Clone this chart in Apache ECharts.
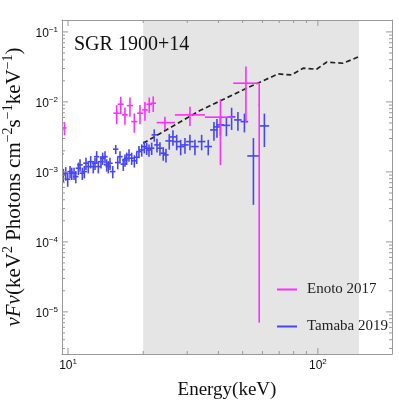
<!DOCTYPE html>
<html><head><meta charset="utf-8">
<script src="https://cdn.jsdelivr.net/npm/echarts@6/dist/echarts.min.js"></script>
<style>html,body{margin:0;padding:0;background:#fff}#c{width:399px;height:407px}</style>
</head><body><div id="c"></div>
<script>
// ---- Enoto 2017 (magenta): energy, energy bin low/high, flux, flux error
const enotoE   = [9.2, 9.68, 15.66, 16.25, 16.90, 17.70, 18.42, 19.41, 20.32, 21.14, 21.93, 24.43, 30.76, 40.74, 51.52, 58.24];
const enotoElo = [8.85, 9.5, 15.2, 15.8, 16.45, 17.2, 17.9, 18.9, 19.8, 20.6, 21.4, 22.64, 26.79, 35.32, 45.84, 57.9];
const enotoEhi = [9.6, 9.86, 16.1, 16.7, 17.35, 18.2, 18.95, 19.95, 20.85, 21.7, 22.5, 26.79, 35.32, 45.71, 58.24, 58.6];
const enotoF   = [1.81e-3, 4.25e-3, 6.90e-3, 9.27e-3, 6.52e-3, 8.86e-3, 5.23e-3, 6.90e-3, 7.69e-3, 9.27e-3, 9.58e-3, 5.06e-3, 6.52e-3, 6.05e-3, 1.85e-2, 9.05e-3];
const enotoFerr= [0.4e-3, 0.93e-3, 2.1e-3, 2.6e-3, 1.8e-3, 2.7e-3, 1.6e-3, 2.1e-3, 2.3e-3, 2.3e-3, 2.4e-3, 1.1e-3, 2.0e-3, 4.8e-3, 1.35e-2, 9.043e-3];

// ---- Tamaba 2019 (blue): energy, flux, relative errors
const tamabaE = [9.58, 9.79, 9.97, 10.19, 10.35, 10.57, 10.74, 11.0, 11.17, 11.41,
  11.62, 11.80, 12.05, 12.32, 12.62, 12.82, 13.02, 13.22, 13.55, 13.76,
  14.06, 14.28, 14.50, 14.72, 15.10, 15.52, 15.81, 16.14, 16.64, 16.90,
  17.17, 17.54, 17.98, 18.42, 18.83, 19.23, 19.72, 20.20, 20.65, 21.09,
  21.62, 22.14, 22.70, 23.33, 24.05, 24.66, 25.42, 26.30, 27.22, 28.24,
  29.38, 30.76, 32.21, 34.26, 36.41, 38.37, 39.45, 40.74, 43.05, 45.16,
  47.86, 50.82, 55.21, 61.09];
const tamabaF = [9.06e-4, 9.58e-4, 7.86e-4, 1.01e-3, 9.58e-4, 9.58e-4, 8.57e-4, 1.13e-3, 1.26e-3, 9.58e-4,
  1.01e-3, 1.33e-3, 1.19e-3, 1.40e-3, 1.19e-3, 1.33e-3, 1.65e-3, 1.19e-3, 1.40e-3, 1.57e-3,
  1.65e-3, 1.26e-3, 1.19e-3, 1.33e-3, 1.01e-3, 2.11e-3, 1.36e-3, 1.65e-3, 1.29e-3, 1.48e-3,
  1.57e-3, 1.75e-3, 1.57e-3, 1.44e-3, 1.62e-3, 1.95e-3, 2.06e-3, 2.30e-3, 2.18e-3, 2.06e-3,
  2.18e-3, 3.38e-3, 2.43e-3, 2.18e-3, 1.85e-3, 1.75e-3, 2.77e-3, 3.16e-3, 2.71e-3, 2.30e-3,
  2.43e-3, 2.71e-3, 2.30e-3, 2.71e-3, 2.30e-3, 3.98e-3, 4.39e-3, 4.69e-3, 4.62e-3, 6.11e-3,
  5.53e-3, 5.23e-3, 1.69e-3, 4.54e-3];
const tamabaFrel = [0.22, 0.22, 0.22, 0.2, 0.2, 0.2, 0.2, 0.2, 0.2, 0.2,
  0.2, 0.2, 0.2, 0.2, 0.2, 0.2, 0.2, 0.2, 0.2, 0.2,
  0.2, 0.2, 0.2, 0.2, 0.2, 0.15, 0.2, 0.2, 0.2, 0.2,
  0.2, 0.2, 0.2, 0.2, 0.2, 0.2, 0.2, 0.2, 0.2, 0.2,
  0.2, 0.2, 0.22, 0.22, 0.22, 0.22, 0.25, 0.25, 0.25, 0.25,
  0.25, 0.25, 0.25, 0.25, 0.25, 0.3, 0.3, 0.3, 0.3, 0.35,
  0.3, 0.3, 0.8, 0.5];
const tamabaErel = [0.025, 0.025, 0.025, 0.025, 0.025, 0.025, 0.025, 0.025, 0.025, 0.025,
  0.025, 0.025, 0.025, 0.025, 0.025, 0.025, 0.025, 0.025, 0.025, 0.025,
  0.025, 0.025, 0.025, 0.025, 0.025, 0.025, 0.025, 0.025, 0.025, 0.025,
  0.025, 0.025, 0.025, 0.025, 0.025, 0.025, 0.025, 0.025, 0.025, 0.025,
  0.025, 0.025, 0.025, 0.025, 0.025, 0.025, 0.035, 0.035, 0.035, 0.035,
  0.035, 0.035, 0.035, 0.035, 0.035, 0.035, 0.035, 0.035, 0.035, 0.035,
  0.035, 0.035, 0.055, 0.045];

// ---- dashed model curve
const modelE = [20.0, 33.73, 51.86, 69.37, 78.48, 87.34, 98.8, 108.3, 126.2, 146.3];
const modelF = [2.57e-3, 7.51e-3, 1.57e-2, 2.51e-2, 2.43e-2, 3.03e-2, 2.93e-2, 3.69e-2, 3.57e-2, 4.44e-2];

// ---- shaded band (keV)
const bandE = [20, 146];

const titleText = 'SGR 1900+14';
const seriesNames = ['Enoto 2017', 'Tamaba 2019'];

const X_MIN = 9.46, X_MAX = 198, Y_MIN = 2.5e-6, Y_MAX = 0.148;
const MAG = '#ff2cff', BLUE = '#4646f2', FRAME = '#9a9a9a';
const SERIF = '"Liberation Serif","DejaVu Serif",serif';
const SANS = '"Liberation Sans",Arial,sans-serif';

const enotoData = enotoE.map((e, i) => [e, enotoF[i], enotoElo[i], enotoEhi[i], enotoFerr[i]]);
const tamabaData = tamabaE.map((e, i) => [e, tamabaF[i], e * (1 - tamabaErel[i]), e * (1 + tamabaErel[i]), tamabaF[i] * tamabaFrel[i]]);
const modelData = modelE.map((e, i) => [e, modelF[i]]);

// ticks: [x, y, axis(0=x,1=y), major(1)/minor(0)]
const tickData = [];
for (let p = 0; p <= 3; p++) for (let k = 1; k <= 9; k++) {
  const v = k * Math.pow(10, p);
  if (v >= X_MIN && v <= X_MAX) tickData.push([v, Y_MIN, 0, k === 1 ? 1 : 0]);
}
for (let p = -7; p <= 0; p++) for (let k = 1; k <= 9; k++) {
  const v = k * Math.pow(10, p);
  if (v >= Y_MIN && v <= Y_MAX) tickData.push([X_MIN, v, 1, k === 1 ? 1 : 0]);
}

function errRender(color) {
  return function (params, api) {
    const x = api.value(0), y = api.value(1), xl = api.value(2), xh = api.value(3), ye = api.value(4);
    const c = api.coord([x, y]);
    const pl = api.coord([xl, y]), ph = api.coord([xh, y]);
    const pt = api.coord([x, y + ye]);
    const pb = api.coord([x, Math.max(y - ye, 1e-9)]);
    return { type: 'group', children: [
      { type: 'line', shape: { x1: pl[0], y1: c[1], x2: ph[0], y2: c[1] }, style: { stroke: color, lineWidth: 1.6 } },
      { type: 'line', shape: { x1: c[0], y1: pt[1], x2: c[0], y2: pb[1] }, style: { stroke: color, lineWidth: 1.6 } }
    ]};
  };
}

function supLabel(v) {
  const l = Math.log10(v), p = Math.round(l);
  if (Math.abs(l - p) > 1e-6) return '';
  return '{b|10}{s|' + (p < 0 ? '−' : '') + Math.abs(p) + '}';
}
const labelRich = {
  b: { fontSize: 12, fontFamily: SANS, color: '#111', lineHeight: 12, padding: [3, 0, 0, 0] },
  s: { fontSize: 8, fontFamily: SANS, color: '#111', lineHeight: 8, verticalAlign: 'top' }
};

const chart = echarts.init(document.getElementById('c'), null, { renderer: 'canvas' });
chart.setOption({
  animation: false,
  backgroundColor: '#fff',
  title: { text: titleText, left: 69, top: 30, textStyle: { fontFamily: SERIF, fontSize: 20, fontWeight: 'normal', color: '#111' } },
  legend: {
    orient: 'vertical', left: 272, top: 276, itemWidth: 20, itemHeight: 2, itemGap: 20,
    textStyle: { fontFamily: SERIF, fontSize: 15, color: '#222', lineHeight: 17, padding: [0, 0, 0, 5] },
    data: [
      { name: seriesNames[0], icon: 'rect', itemStyle: { color: MAG } },
      { name: seriesNames[1], icon: 'rect', itemStyle: { color: BLUE } }
    ]
  },
  grid: { left: 62, right: 7, top: 20, bottom: 53, containLabel: false, outerBoundsMode: 'none' },
  xAxis: [{
    type: 'log', logBase: 10, min: X_MIN, max: X_MAX, z: 10,
    axisLine: { show: true, lineStyle: { color: FRAME, width: 1 } },
    axisTick: { show: false }, splitLine: { show: false },
    axisLabel: { formatter: supLabel, rich: labelRich, margin: 4, showMinLabel: false, showMaxLabel: false },
    name: 'Energy(keV)', nameLocation: 'middle', nameGap: 27,
    nameTextStyle: { fontFamily: SERIF, fontSize: 19, color: '#111' }
  }, {
    type: 'log', logBase: 10, min: X_MIN, max: X_MAX, position: 'top', z: 10,
    axisLine: { show: true, onZero: false, lineStyle: { color: FRAME, width: 1 } },
    axisTick: { show: false }, axisLabel: { show: false }, splitLine: { show: false }
  }],
  yAxis: [{
    type: 'log', logBase: 10, min: Y_MIN, max: Y_MAX, z: 10,
    axisLine: { show: true, lineStyle: { color: FRAME, width: 1 } },
    axisTick: { show: false }, splitLine: { show: false },
    axisLabel: { formatter: supLabel, rich: labelRich, margin: 4, showMinLabel: false, showMaxLabel: false },
    name: '{i|νFν}{n|(keV}{s|2}{n| Photons cm}{s|−2}{n|s}{s|−1}{n|keV}{s|−1}{n|)}',
    nameLocation: 'middle', nameRotate: 90, nameGap: 30,
    nameTextStyle: {
      rich: {
        i: { fontFamily: SERIF, fontStyle: 'italic', fontSize: 21, lineHeight: 22, padding: [3, 0, 0, 0], color: '#111' },
        n: { fontFamily: SERIF, fontSize: 21, lineHeight: 22, padding: [3, 0, 0, 0], color: '#111' },
        s: { fontFamily: SERIF, fontSize: 14, lineHeight: 14, verticalAlign: 'top', color: '#111' }
      }
    }
  }, {
    type: 'log', logBase: 10, min: Y_MIN, max: Y_MAX, position: 'right', z: 10,
    axisLine: { show: true, onZero: false, lineStyle: { color: FRAME, width: 1 } },
    axisTick: { show: false }, axisLabel: { show: false }, splitLine: { show: false }
  }],
  series: [
    {
      name: 'band', type: 'custom', z: 1, silent: true,
      data: [[bandE[0], Y_MIN, bandE[1], Y_MAX]],
      encode: { x: 0, y: 1 },
      renderItem: function (params, api) {
        const a = api.coord([api.value(0), api.value(3)]);
        const b = api.coord([api.value(2), api.value(1)]);
        return { type: 'rect', shape: { x: a[0], y: a[1], width: b[0] - a[0], height: b[1] - a[1] }, style: { fill: '#e5e5e5' } };
      }
    },
    {
      name: 'model', type: 'line', z: 3, data: modelData, showSymbol: false, symbol: 'none',
      lineStyle: { color: '#222', width: 1.7, type: [5, 3] }
    },
    {
      name: seriesNames[1], type: 'custom', z: 4, clip: true, data: tamabaData,
      encode: { x: 0, y: 1 }, itemStyle: { color: BLUE }, renderItem: errRender(BLUE)
    },
    {
      name: seriesNames[0], type: 'custom', z: 5, clip: true, data: enotoData,
      encode: { x: 0, y: 1 }, itemStyle: { color: MAG }, renderItem: errRender(MAG)
    },
    {
      name: 'ticks', type: 'custom', z: 6, silent: true, data: tickData,
      encode: { x: 0, y: 1 },
      renderItem: function (params, api) {
        const cs = params.coordSys;
        const len = api.value(3) ? 6 : 3;
        const st = { stroke: FRAME, lineWidth: 1 };
        if (api.value(2) === 0) {
          const px = api.coord([api.value(0), Y_MIN])[0];
          return { type: 'group', children: [
            { type: 'line', shape: { x1: px, y1: cs.y + cs.height, x2: px, y2: cs.y + cs.height - len }, style: st },
            { type: 'line', shape: { x1: px, y1: cs.y, x2: px, y2: cs.y + len }, style: st }
          ]};
        }
        const py = api.coord([X_MIN, api.value(1)])[1];
        return { type: 'group', children: [
          { type: 'line', shape: { x1: cs.x, y1: py, x2: cs.x + len, y2: py }, style: st },
          { type: 'line', shape: { x1: cs.x + cs.width, y1: py, x2: cs.x + cs.width - len, y2: py }, style: st }
        ]};
      }
    }
  ]
});
</script>
</body></html>
